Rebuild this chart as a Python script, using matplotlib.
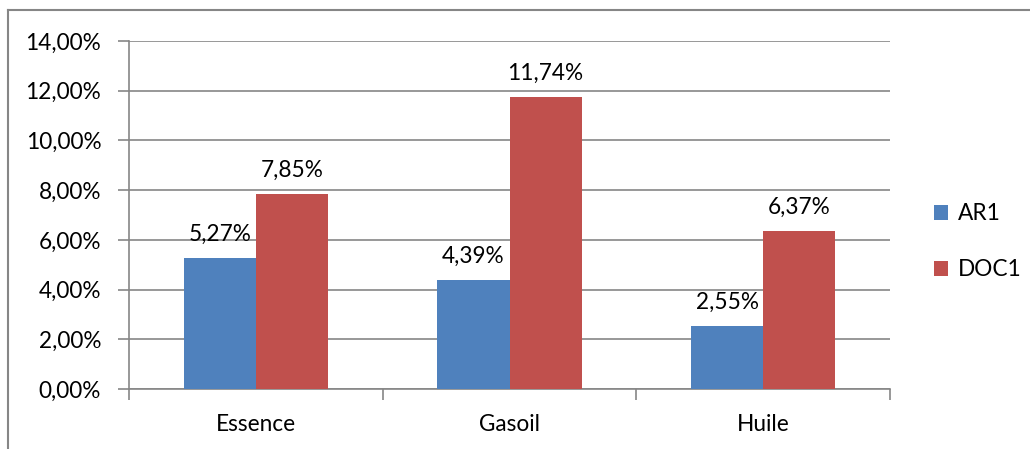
import matplotlib
matplotlib.use("Agg")
import matplotlib.pyplot as plt
from matplotlib.lines import Line2D
import numpy as np

categories = ["Essence", "Gasoil", "Huile"]
series_names = ["AR1", "DOC1"]
ar1 = [5.27, 4.39, 2.55]
doc1 = [7.85, 11.74, 6.37]
y_ticks = [0, 2, 4, 6, 8, 10, 12, 14]

colors = ["#4F81BD", "#C0504D"]
grid_color = "#868686"
fs = 16.3

plt.rcParams["font.family"] = ["Lato", "DejaVu Sans"]

fig = plt.figure(figsize=(10.30, 4.49), dpi=100)
ax = fig.add_axes([129 / 1030, 1 - 389 / 449, (890 - 129) / 1030, (389 - 41) / 449])

def pct(v):
    return f"{v:.2f}".replace(".", ",") + "%"

x = np.arange(len(categories))
w = 0.285
for i, (vals, c, name) in enumerate(zip([ar1, doc1], colors, series_names)):
    pos = x + (i - 0.5) * w
    ax.bar(pos, vals, width=w, color=c, label=name, zorder=3)
    for p, v in zip(pos, vals):
        ax.text(p, v + 0.68, pct(v), ha="center", va="baseline", fontsize=fs,
                color="#000000", zorder=4)

ax.set_xlim(-0.5, 2.5)
ax.set_ylim(0, 14)
ax.set_yticks(y_ticks)
ax.set_yticklabels([pct(t) for t in y_ticks], fontsize=fs)
ax.set_xticks(x)
ax.set_xticklabels(categories, fontsize=fs)
ax.tick_params(axis="x", length=0, pad=18)
ax.tick_params(axis="y", length=8, color=grid_color, width=1.2, pad=12)

# category boundary ticks below the x axis
ax.set_xticks([-0.5, 0.5, 1.5, 2.5], minor=True)
ax.tick_params(axis="x", which="minor", length=8, color=grid_color, width=1.2)

ax.grid(axis="y", color=grid_color, linewidth=1.2, zorder=0)
for s in ["top", "right"]:
    ax.spines[s].set_visible(False)
for s in ["left", "bottom"]:
    ax.spines[s].set_color(grid_color)
    ax.spines[s].set_linewidth(1.2)

leg = fig.legend(loc="upper left", bbox_to_anchor=(914 / 1030, 1 - 183 / 449),
                 frameon=False, fontsize=fs, handlelength=0.62, handleheight=0.62,
                 handletextpad=0.4, labelspacing=1.55)

# outer chart frame
fig.add_artist(Line2D([8 / 1030, 8 / 1030], [0, 1 - 10 / 449], transform=fig.transFigure,
                      color=grid_color, linewidth=1.5))
fig.add_artist(Line2D([8 / 1030, 1], [1 - 10 / 449, 1 - 10 / 449], transform=fig.transFigure,
                      color=grid_color, linewidth=1.5))

fig.savefig("out.png", dpi=100)
